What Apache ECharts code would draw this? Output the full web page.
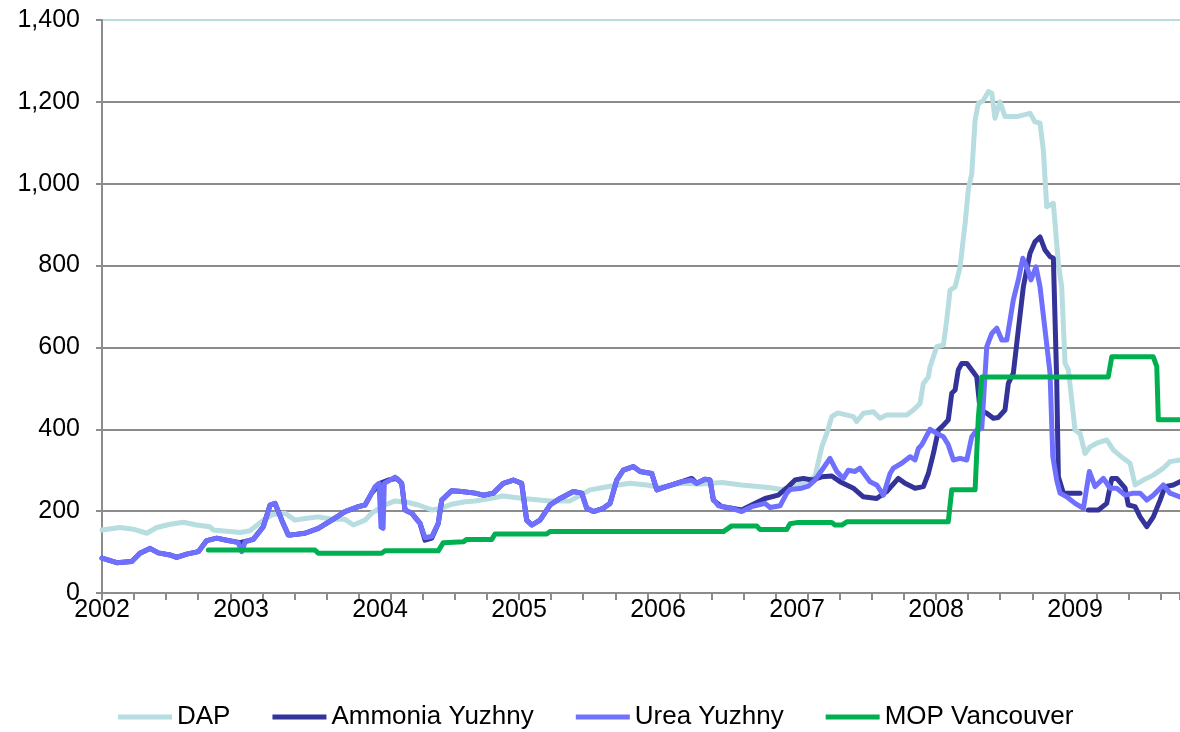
<!DOCTYPE html>
<html>
<head>
<meta charset="utf-8">
<script src="https://cdn.jsdelivr.net/npm/echarts@6/dist/echarts.min.js"></script>
<style>
  html, body { margin: 0; background: #fff; }
  #chart { width: 1180px; height: 732px; }
</style>
</head>
<body>
<div id="chart"></div>
<script>
// weekly price series as [year, value]
const dapPoints = [
  [2002.0, 154], [2002.129, 160], [2002.225, 156], [2002.322, 146], [2002.394, 160], [2002.489, 168],
  [2002.585, 173], [2002.681, 166], [2002.777, 162], [2002.801, 154], [2002.993, 148], [2003.065, 152],
  [2003.160, 178], [2003.232, 192], [2003.317, 195], [2003.388, 178], [2003.460, 182], [2003.556, 186],
  [2003.653, 180], [2003.748, 180], [2003.808, 166], [2003.892, 178], [2003.940, 195], [2004.036, 215],
  [2004.108, 225], [2004.204, 221], [2004.276, 215], [2004.372, 203], [2004.444, 207], [2004.516, 217],
  [2004.612, 223], [2004.683, 225], [2004.791, 231], [2004.887, 237], [2005.031, 231], [2005.223, 225],
  [2005.367, 225], [2005.511, 252], [2005.655, 261], [2005.799, 268], [2005.919, 264], [2006.014, 258],
  [2006.171, 268], [2006.314, 266], [2006.458, 270], [2006.602, 264], [2006.794, 258], [2006.890, 253],
  [2006.986, 260], [2007.129, 284], [2007.178, 357], [2007.214, 390], [2007.250, 431], [2007.286, 439],
  [2007.309, 439], [2007.405, 431], [2007.429, 419], [2007.477, 439], [2007.549, 443], [2007.597, 427],
  [2007.645, 435], [2007.789, 435], [2007.837, 447], [2007.885, 463], [2007.909, 512], [2007.945, 528],
  [2007.957, 553], [2008.005, 602], [2008.053, 606], [2008.077, 667], [2008.101, 740], [2008.137, 748],
  [2008.173, 797], [2008.209, 903], [2008.232, 985], [2008.257, 1025], [2008.281, 1156], [2008.304, 1196],
  [2008.340, 1203], [2008.376, 1225], [2008.401, 1221], [2008.424, 1160], [2008.460, 1200], [2008.496, 1164],
  [2008.581, 1164], [2008.676, 1172], [2008.712, 1151], [2008.748, 1148], [2008.772, 1082], [2008.796, 944],
  [2008.844, 952], [2008.880, 805], [2008.904, 748], [2008.928, 561], [2008.952, 545], [2008.976, 472],
  [2009.000, 398], [2009.036, 390], [2009.072, 341], [2009.108, 357], [2009.156, 366], [2009.228, 374],
  [2009.276, 349], [2009.347, 329], [2009.396, 317], [2009.432, 264], [2009.491, 276], [2009.563, 288],
  [2009.635, 305], [2009.683, 321], [2009.755, 325]
]

const ammoniaPoints = [
  [2002.0, 85], [2002.106, 74], [2002.214, 77], [2002.273, 97], [2002.345, 109], [2002.405, 98],
  [2002.489, 93], [2002.537, 87], [2002.609, 95], [2002.693, 101], [2002.753, 128], [2002.825, 134],
  [2002.897, 129], [2002.993, 123], [2003.088, 131], [2003.160, 162], [2003.209, 215], [2003.245, 219],
  [2003.293, 178], [2003.340, 142], [2003.365, 142], [2003.460, 146], [2003.556, 158], [2003.653, 178],
  [2003.748, 199], [2003.844, 211], [2003.892, 215], [2003.940, 244], [2004.000, 268], [2004.060, 276],
  [2004.120, 280], [2004.156, 268], [2004.180, 203], [2004.228, 195], [2004.288, 170], [2004.324, 129],
  [2004.372, 134], [2004.419, 170], [2004.444, 227], [2004.516, 250], [2004.588, 248], [2004.683, 244],
  [2004.743, 239], [2004.815, 244], [2004.887, 268], [2004.959, 276], [2005.019, 268], [2005.055, 178],
  [2005.091, 166], [2005.151, 178], [2005.223, 215], [2005.295, 231], [2005.391, 248], [2005.451, 244],
  [2005.487, 207], [2005.535, 199], [2005.606, 207], [2005.655, 219], [2005.703, 276], [2005.750, 300],
  [2005.822, 309], [2005.871, 297], [2005.955, 292], [2005.991, 252], [2006.027, 256], [2006.099, 264],
  [2006.171, 272], [2006.242, 280], [2006.278, 268], [2006.338, 278], [2006.374, 276], [2006.398, 227],
  [2006.458, 211], [2006.530, 207], [2006.602, 203], [2006.674, 215], [2006.770, 231], [2006.865, 239],
  [2006.937, 260], [2006.986, 276], [2007.045, 280], [2007.106, 276], [2007.178, 284], [2007.250, 286],
  [2007.309, 272], [2007.405, 256], [2007.477, 235], [2007.573, 231], [2007.645, 248], [2007.729, 280],
  [2007.777, 268], [2007.849, 256], [2007.909, 260], [2007.945, 292], [2007.981, 341], [2008.017, 398],
  [2008.053, 410], [2008.088, 423], [2008.113, 488], [2008.137, 496], [2008.160, 545], [2008.185, 561],
  [2008.221, 561], [2008.257, 545], [2008.293, 528], [2008.317, 447], [2008.365, 439], [2008.412, 427],
  [2008.448, 429], [2008.496, 447], [2008.520, 512], [2008.556, 537], [2008.592, 643], [2008.628, 748],
  [2008.676, 830], [2008.712, 858], [2008.748, 870], [2008.784, 838], [2008.820, 822], [2008.844, 818],
  [2008.868, 520], [2008.880, 284], [2008.916, 244], [2009.036, 244], [2009.066, '-'],
  [2009.096, 203], [2009.168, 203], [2009.228, 219], [2009.264, 280], [2009.300, 280], [2009.360, 256],
  [2009.383, 215], [2009.432, 211], [2009.468, 186], [2009.516, 162], [2009.563, 186], [2009.612, 227],
  [2009.647, 260], [2009.707, 264], [2009.755, 272]
]

const ureaPoints = [
  [2002.0, 85], [2002.106, 74], [2002.214, 77], [2002.273, 97], [2002.345, 109], [2002.405, 98],
  [2002.489, 93], [2002.537, 87], [2002.609, 95], [2002.693, 101], [2002.753, 128], [2002.825, 134],
  [2002.897, 129], [2002.980, 123], [2003.005, 101], [2003.030, 125], [2003.088, 131], [2003.160, 162],
  [2003.209, 215], [2003.245, 219], [2003.293, 178], [2003.340, 142], [2003.365, 142], [2003.460, 146],
  [2003.556, 158], [2003.653, 178], [2003.748, 199], [2003.844, 211], [2003.892, 215], [2003.940, 244],
  [2003.964, 260], [2003.993, 268], [2004.007, 161], [2004.022, 158], [2004.031, 268], [2004.108, 283],
  [2004.156, 268], [2004.180, 203], [2004.228, 195], [2004.288, 170], [2004.324, 135], [2004.372, 138],
  [2004.419, 170], [2004.444, 227], [2004.516, 250], [2004.588, 248], [2004.683, 244], [2004.743, 239],
  [2004.815, 244], [2004.887, 268], [2004.959, 276], [2005.019, 268], [2005.055, 178], [2005.091, 166],
  [2005.151, 178], [2005.223, 215], [2005.295, 231], [2005.391, 248], [2005.451, 244], [2005.487, 207],
  [2005.535, 199], [2005.606, 207], [2005.655, 219], [2005.703, 276], [2005.750, 300], [2005.822, 309],
  [2005.871, 297], [2005.955, 292], [2005.991, 252], [2006.027, 256], [2006.099, 264], [2006.171, 272],
  [2006.242, 276], [2006.278, 268], [2006.338, 278], [2006.374, 276], [2006.398, 229], [2006.434, 213],
  [2006.530, 207], [2006.602, 199], [2006.674, 211], [2006.770, 219], [2006.806, 209], [2006.878, 213],
  [2006.926, 244], [2006.950, 253], [2007.034, 256], [2007.081, 261], [2007.129, 276], [2007.178, 300],
  [2007.237, 329], [2007.286, 297], [2007.333, 280], [2007.369, 300], [2007.417, 297], [2007.453, 305],
  [2007.525, 272], [2007.573, 264], [2007.621, 239], [2007.669, 292], [2007.693, 305], [2007.753, 317],
  [2007.813, 333], [2007.849, 325], [2007.873, 353], [2007.897, 362], [2007.957, 400], [2008.005, 390],
  [2008.053, 382], [2008.088, 362], [2008.125, 325], [2008.173, 329], [2008.221, 325], [2008.257, 382],
  [2008.293, 398], [2008.329, 402], [2008.365, 602], [2008.401, 634], [2008.437, 647], [2008.473, 618],
  [2008.509, 618], [2008.556, 716], [2008.592, 765], [2008.624, 818], [2008.653, 797], [2008.683, 765],
  [2008.719, 797], [2008.748, 748], [2008.784, 643], [2008.820, 537], [2008.840, 333], [2008.868, 276],
  [2008.892, 244], [2008.940, 235], [2009.000, 219], [2009.060, 207], [2009.103, 297], [2009.144, 260],
  [2009.204, 280], [2009.252, 256], [2009.300, 256], [2009.360, 239], [2009.419, 244], [2009.468, 244],
  [2009.516, 227], [2009.563, 239], [2009.635, 264], [2009.683, 244], [2009.755, 235]
]

const mopPoints = [
  [2002.765, 105], [2003.532, 105], [2003.556, 97], [2004.012, 97], [2004.036, 103], [2004.419, 103],
  [2004.455, 123], [2004.599, 125], [2004.624, 131], [2004.804, 131], [2004.827, 144], [2005.199, 144],
  [2005.223, 150], [2006.470, 150], [2006.530, 164], [2006.710, 164], [2006.734, 155], [2006.926, 155],
  [2006.950, 169], [2006.998, 172], [2007.250, 172], [2007.273, 166], [2007.322, 166], [2007.358, 174],
  [2008.088, 174], [2008.113, 252], [2008.281, 252], [2008.304, 427], [2008.329, 528], [2009.239, 528],
  [2009.264, 577], [2009.563, 577], [2009.588, 553], [2009.599, 423], [2009.755, 423]
]

const seriesNames = ['DAP', 'Ammonia Yuzhny', 'Urea Yuzhny', 'MOP Vancouver']
const seriesColors = ['#b7dde0', '#333399', '#7070ff', '#00b050']
const seriesPoints = [dapPoints, ammoniaPoints, ureaPoints, mopPoints]

const xStart = 2002
const xEnd = 2009.755
const yMax = 1400
const yStep = 200
// tick marks on the date axis every 12 weeks
const tickWeeks = 12
const totalWeeks = (xEnd - xStart) * 52

const textFont = 'Liberation Sans, Arial, sans-serif'
const gridGray = '#8c8c8c'

const chart = echarts.init(document.getElementById('chart'))

const option = {
  backgroundColor: '#fff',
  animation: false,
  grid: { left: 102, right: 0, top: 20, bottom: 139 },
  legend: {
    data: seriesNames,
    left: 118,
    top: 704,
    padding: 0,
    icon: 'rect',
    itemWidth: 54,
    itemHeight: 5,
    itemGap: 42,
    textStyle: { fontFamily: textFont, fontSize: 26, color: '#000' }
  },
  xAxis: [
    {
      type: 'value',
      min: xStart,
      max: xEnd,
      interval: 1,
      axisLine: { show: false },
      axisTick: { show: false },
      splitLine: { show: false },
      axisLabel: {
        showMaxLabel: false,
        margin: 5,
        fontFamily: textFont,
        fontSize: 25,
        color: '#000',
        formatter: v => String(v)
      }
    },
    {
      type: 'value',
      position: 'bottom',
      min: 0,
      max: totalWeeks,
      interval: tickWeeks,
      axisLine: { show: true, lineStyle: { color: gridGray, width: 2 } },
      axisTick: { show: true, length: 7, lineStyle: { color: gridGray, width: 2 } },
      axisLabel: { show: false },
      splitLine: { show: false }
    }
  ],
  yAxis: {
    type: 'value',
    min: 0,
    max: yMax,
    interval: yStep,
    axisLine: { show: true, lineStyle: { color: gridGray, width: 2 } },
    axisTick: { show: true, length: 6, lineStyle: { color: gridGray, width: 2 } },
    axisLabel: { margin: 22, fontFamily: textFont, fontSize: 25, color: '#000' },
    splitLine: {
      lineStyle: {
        width: 2,
        color: [gridGray, gridGray, gridGray, gridGray, gridGray, gridGray, gridGray, '#b7dde0']
      }
    }
  },
  series: seriesNames.map((name, i) => ({
    name: name,
    type: 'line',
    xAxisIndex: 0,
    data: seriesPoints[i],
    symbol: 'none',
    color: seriesColors[i],
    lineStyle: { color: seriesColors[i], width: 5, cap: 'round', join: 'round' }
  }))
}

chart.setOption(option)
</script>
</body>
</html>
